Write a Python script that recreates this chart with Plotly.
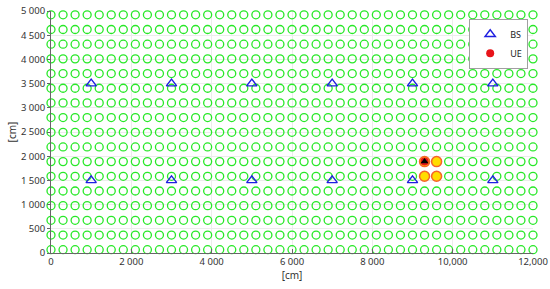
import plotly.graph_objects as go

# Kandidatenraster (Positionen in cm)
grid_x = [0, 300, 600, 900, 1200, 1500, 1800, 2100, 2400, 2700, 3000, 3300, 3600, 3900,
          4200, 4500, 4800, 5100, 5400, 5700, 6000, 6300, 6600, 6900, 7200, 7500, 7800,
          8100, 8400, 8700, 9000, 9300, 9600, 9900, 10200, 10500, 10800, 11100, 11400,
          11700, 12000]
grid_y = [68, 371, 675, 978, 1281, 1585, 1888, 2191, 2494, 2798, 3101, 3404, 3708,
          4011, 4314, 4618, 4921]

# Basisstationen
bs_x = [1000, 3000, 5000, 7000, 9000, 11000, 1000, 3000, 5000, 7000, 9000, 11000]
bs_y = [3500, 3500, 3500, 3500, 3500, 3500, 1500, 1500, 1500, 1500, 1500, 1500]

# Nachbarpunkte um den UE
near_x = [9300, 9600, 9300, 9600]
near_y = [1888, 1888, 1585, 1585]

# UE
ue_x = [9300]
ue_y = [1888]

x_ticks = [0, 2000, 4000, 6000, 8000, 10000, 12000]
x_labels = ['0', '2 000', '4 000', '6 000', '8 000', '10,000', '12,000']
y_ticks = [0, 500, 1000, 1500, 2000, 2500, 3000, 3500, 4000, 4500, 5000]
y_labels = ['0', '500', '1 000', '1 500', '2 000', '2 500', '3 000', '3 500',
            '4 000', '4 500', '5 000']

gx = [x for y in grid_y for x in grid_x]
gy = [y for y in grid_y for x in grid_x]

fig = go.Figure()

fig.add_trace(go.Scatter(
    x=gx, y=gy, mode='markers', showlegend=False, cliponaxis=False,
    marker=dict(symbol='circle-open', size=8, color='rgb(40,232,40)',
                line=dict(width=1.3)),
    hoverinfo='skip',
))

fig.add_trace(go.Scatter(
    x=near_x, y=near_y, mode='markers', showlegend=False, cliponaxis=False,
    marker=dict(symbol='circle', size=10, color='#ffdd00',
                line=dict(color='#f5632a', width=1.5)),
))

fig.add_trace(go.Scatter(
    x=bs_x, y=bs_y, mode='markers', name='BS', cliponaxis=False,
    marker=dict(symbol='triangle-up-open', size=9, color='#1f1fe0',
                line=dict(width=1.4)),
))

fig.add_trace(go.Scatter(
    x=ue_x, y=ue_y, mode='markers', name='UE', cliponaxis=False,
    marker=dict(symbol='circle', size=8, color='#e8141a'),
))

# Schwarzer Marker auf dem UE
fig.add_trace(go.Scatter(
    x=ue_x, y=ue_y, mode='markers', showlegend=False, cliponaxis=False,
    marker=dict(symbol='triangle-up', size=7, color='black'),
))

fig.update_layout(
    width=550, height=289,
    margin=dict(l=51, r=17, t=11, b=36),
    paper_bgcolor='white', plot_bgcolor='white',
    font=dict(family='Noto Sans', size=10, color='#333333'),
    legend=dict(
        x=0.99, y=0.968, xanchor='right', yanchor='top',
        bgcolor='white', bordercolor='#a0a0a0', borderwidth=1,
        font=dict(size=9, color='#222222'), tracegroupgap=0,
        itemwidth=30,
    ),
)

fig.update_xaxes(
    range=[0, 12000], tickvals=x_ticks, ticktext=x_labels, automargin=False,
    ticklabeloverflow='allow', tickfont=dict(size=9.5),
    showline=True, linecolor='#666666', linewidth=1,
    ticks='inside', ticklen=4, tickcolor='#666666',
    showgrid=True, gridcolor='#ececec', zeroline=False,
    title=dict(text='[cm]', standoff=2, font=dict(size=10)),
)
fig.update_yaxes(
    range=[0, 5000], tickvals=y_ticks, ticktext=y_labels, automargin=False,
    ticklabeloverflow='allow', tickfont=dict(size=9.5),
    showline=True, linecolor='#666666', linewidth=1,
    ticks='outside', ticklen=3, tickcolor='#666666',
    showgrid=True, gridcolor='#ececec', zeroline=False,
    title=dict(text='[cm]', standoff=2, font=dict(size=10)),
)

# Body-Rand der Seite entfernen, damit die Figur bei (0,0) beginnt
fig.write_html("out.html", config={'displayModeBar': False},
               post_script="document.body.style.margin='0';")
